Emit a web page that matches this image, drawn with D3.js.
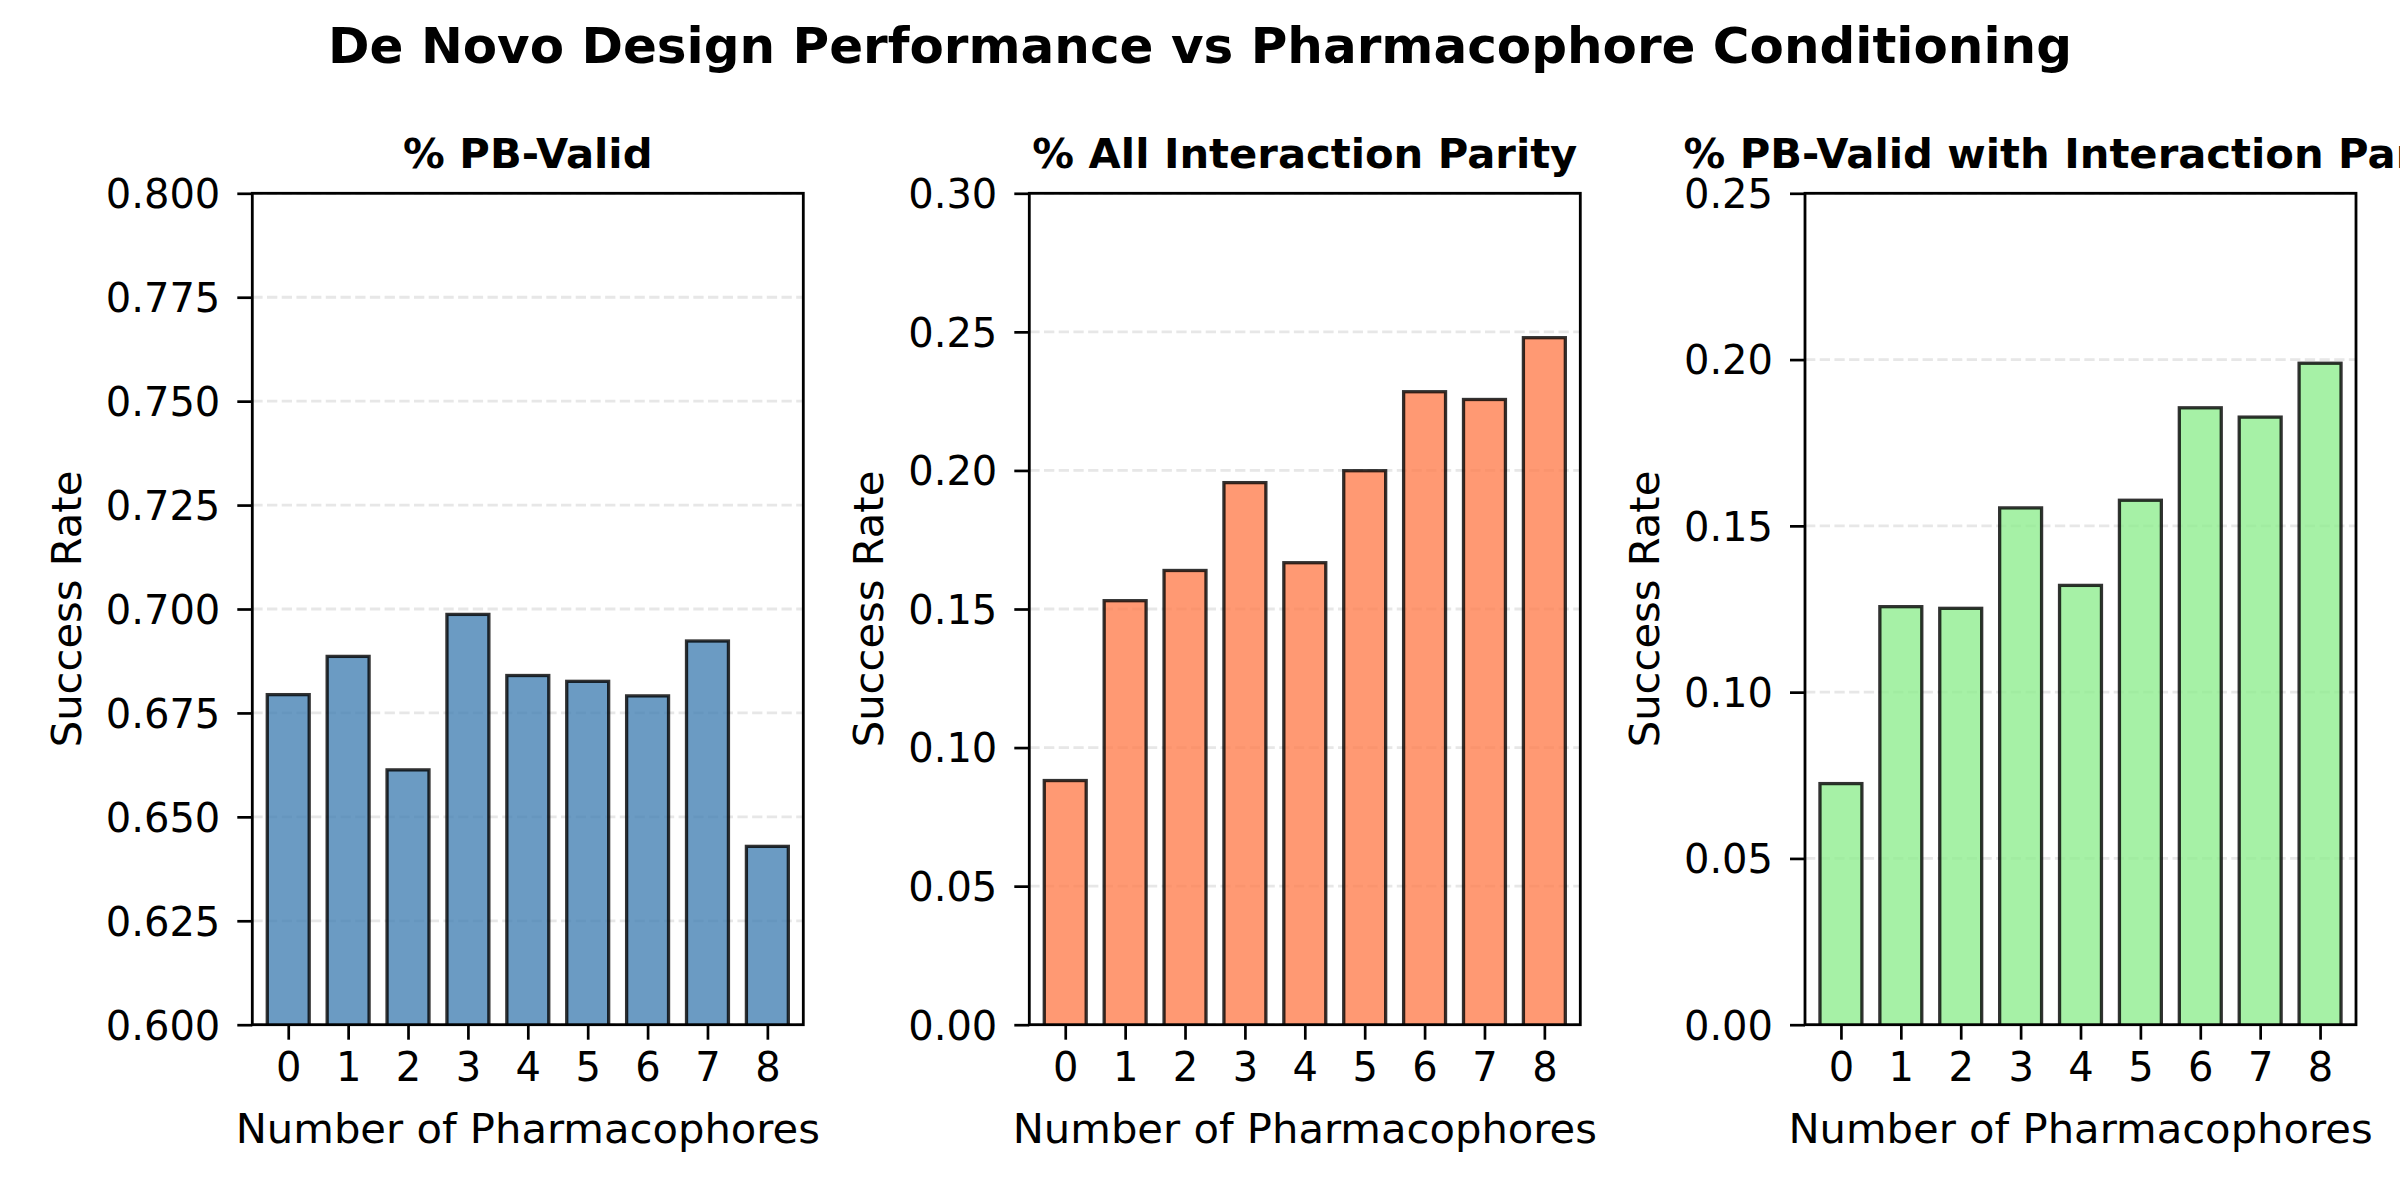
<!DOCTYPE html>
<html><head><meta charset="utf-8">
<script src="https://cdn.jsdelivr.net/npm/d3@7"></script>
<style>body{margin:0;background:#fff} svg{display:block}</style>
</head>
<body>
<svg id="c" width="2400" height="1200"></svg>
<script>
// ---- data ----
const categories = ["0","1","2","3","4","5","6","7","8"];
const pbValid = [0.6794, 0.6886, 0.6613, 0.6987, 0.6840, 0.6826, 0.6791, 0.6923, 0.6429];
const interactionParity = [0.0881, 0.1530, 0.1639, 0.1956, 0.1667, 0.1999, 0.2284, 0.2256, 0.2479];
const pbValidParity = [0.0725, 0.1257, 0.1252, 0.1554, 0.1321, 0.1577, 0.1855, 0.1827, 0.1989];
const ticksPB = [0.600, 0.625, 0.650, 0.675, 0.700, 0.725, 0.750, 0.775, 0.800];
const ticksIP = [0.00, 0.05, 0.10, 0.15, 0.20, 0.25, 0.30];
const ticksPBIP = [0.00, 0.05, 0.10, 0.15, 0.20, 0.25];
const panelTitles = ["% PB-Valid", "% All Interaction Parity", "% PB-Valid with Interaction Parity"];
const suptitle = "De Novo Design Performance vs Pharmacophore Conditioning";
const xLabel = "Number of Pharmacophores";
const yLabel = "Success Rate";

// ---- layout / style ----
const FONT = "DejaVu Sans, sans-serif";
const topY = 193.3, botY = 1024.7, pw = 551;
const lefts = [252.3, 1029.3, 1805];
const panels = [
  {values: pbValid, ticks: ticksPB, fmt: d3.format(".3f"), fill: "#4682B4"},
  {values: interactionParity, ticks: ticksIP, fmt: d3.format(".2f"), fill: "#FF7F50"},
  {values: pbValidParity, ticks: ticksPBIP, fmt: d3.format(".2f"), fill: "#90EE90"}
];

const svg = d3.select("#c");
svg.append("rect").attr("width",2400).attr("height",1200).attr("fill","#fff");

svg.append("text").attr("x",1200).attr("y",63).attr("text-anchor","middle")
  .attr("font-family",FONT).attr("font-weight","bold").attr("font-size",50)
  .attr("fill","#000").text(suptitle);

panels.forEach((p, i) => {
  const L = lefts[i];
  const g = svg.append("g");
  const x = d3.scaleLinear().domain([-0.6, 8.6]).range([L, L + pw]);
  const y = d3.scaleLinear().domain([p.ticks[0], p.ticks[p.ticks.length-1]]).range([botY, topY]);
  const clipId = "clip" + i;
  svg.append("clipPath").attr("id", clipId).append("rect")
    .attr("x", L).attr("y", topY).attr("width", pw).attr("height", botY - topY);

  // grid
  g.append("g").selectAll("line").data(p.ticks).join("line")
    .attr("x1", L).attr("x2", L + pw)
    .attr("y1", d => y(d)).attr("y2", d => y(d))
    .attr("stroke", "#b0b0b0").attr("stroke-opacity", 0.3)
    .attr("stroke-width", 2.8).attr("stroke-dasharray", "10.3,4.4");

  // bars
  const bw = 0.7;
  g.append("g").attr("clip-path", `url(#${clipId})`).selectAll("rect")
    .data(p.values).join("rect")
    .attr("x", (d, j) => x(j - bw/2))
    .attr("width", (d, j) => x(j + bw/2) - x(j - bw/2))
    .attr("y", d => y(d))
    .attr("height", d => y(p.ticks[0]) - y(d) + 10)
    .attr("fill", p.fill).attr("fill-opacity", 0.8)
    .attr("stroke", "#000").attr("stroke-opacity", 0.8).attr("stroke-width", 3.3);

  // axes via d3
  const yAxis = d3.axisLeft(y).tickValues(p.ticks).tickFormat(p.fmt).tickSize(15).tickPadding(17);
  const ya = g.append("g").attr("transform", `translate(${L},0)`).call(yAxis);
  const xAxis = d3.axisBottom(x).tickValues(d3.range(categories.length))
    .tickFormat(j => categories[j]).tickSize(15).tickPadding(18);
  const xa = g.append("g").attr("transform", `translate(0,${botY})`).call(xAxis);
  [ya, xa].forEach(a => {
    a.select(".domain").remove();
    a.selectAll(".tick line").attr("stroke", "#000").attr("stroke-width", 2.7);
    a.selectAll(".tick text").attr("font-family", FONT).attr("font-size", 40).attr("fill", "#000");
  });
  ya.selectAll(".tick text").attr("dy", "0.36em");
  xa.selectAll(".tick text").attr("dy", null).attr("y", 1081 - botY);

  // spines
  g.append("rect").attr("x", L).attr("y", topY).attr("width", pw).attr("height", botY - topY)
    .attr("fill", "none").attr("stroke", "#000").attr("stroke-width", 2.8);

  // title
  g.append("text").attr("x", L + pw/2).attr("y", 168).attr("text-anchor", "middle")
    .attr("font-family", FONT).attr("font-weight", "bold").attr("font-size", 41.7)
    .attr("fill", "#000").text(panelTitles[i]);

  // x label
  g.append("text").attr("x", L + pw/2).attr("y", 1143).attr("text-anchor", "middle")
    .attr("font-family", FONT).attr("font-size", 41.7).attr("fill", "#000").text(xLabel);

  // y label
  let tickLeft = Infinity;
  ya.selectAll(".tick text").each(function(){
    const b = this.getBBox();
    tickLeft = Math.min(tickLeft, L + b.x);
  });
  const lx = tickLeft - 25;
  g.append("text").attr("transform", `translate(${lx},${(topY+botY)/2}) rotate(-90)`)
    .attr("text-anchor", "middle").attr("font-family", FONT).attr("font-size", 41.7)
    .attr("fill", "#000").text(yLabel);
});
</script>
</body></html>
